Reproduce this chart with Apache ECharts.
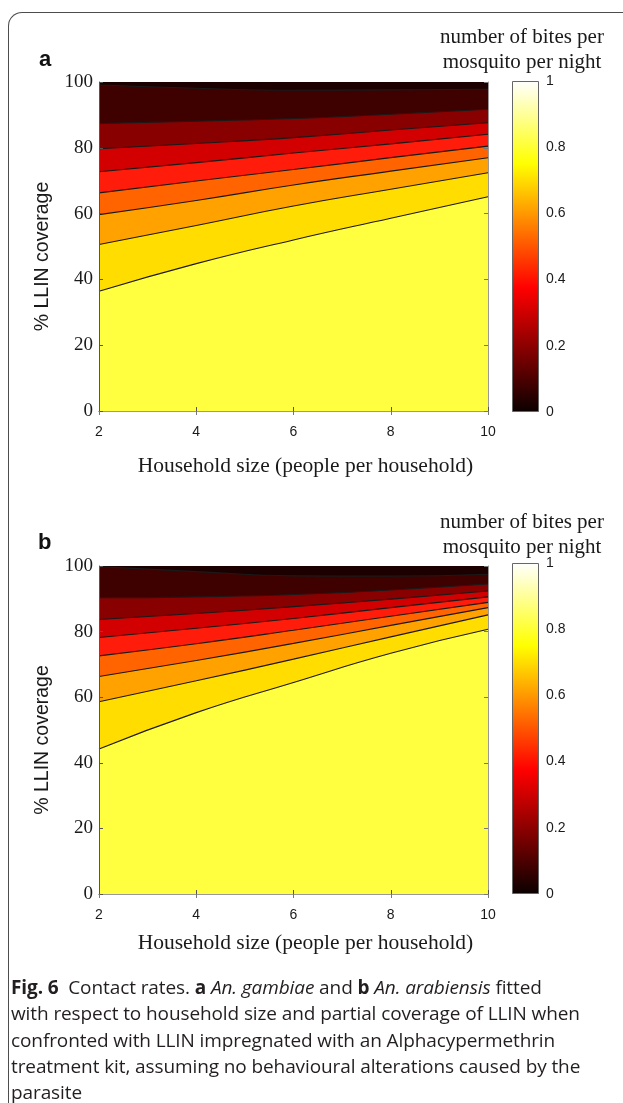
<!DOCTYPE html>
<html>
<head>
<meta charset="utf-8">
<script src="https://cdn.jsdelivr.net/npm/echarts@6/dist/echarts.min.js"></script>
<style>
  html, body { margin: 0; padding: 0; background: #fff; }
  #page { position: relative; width: 623px; height: 1103px; overflow: hidden; }
  #chart { position: absolute; left: 0; top: 0; width: 623px; height: 1103px; }
  #frame {
    position: absolute; left: 8px; top: 12px; width: 700px; height: 1200px;
    border-top: 1.5px solid #4d4d4d; border-left: 1.5px solid #4d4d4d;
    border-top-left-radius: 14px; pointer-events: none;
  }
  #caption {
    position: absolute; left: 11px; top: 974px; width: 612px;
    font-family: 'Open Sans', 'Noto Sans', sans-serif; font-size: 19px;
    line-height: 26.3px; color: #231f20; letter-spacing: -0.1px; white-space: nowrap;
  }
  #caption b { font-weight: 700; }
</style>
</head>
<body>
<div id="page">
  <div id="frame"></div>
  <div id="chart"></div>
  <div id="caption">
    <b>Fig. 6</b>&nbsp; Contact rates. <b>a</b> <i>An. gambiae</i> and <b>b</b> <i>An. arabiensis</i> fitted<br>
    with respect to household size and partial coverage of LLIN when<br>
    confronted with LLIN impregnated with an Alphacypermethrin<br>
    treatment kit, assuming no behavioural alterations caused by the<br>
    parasite
  </div>
</div>
<script>
// household size (x) where the contour lines were read
const household = [2, 4, 6, 8, 10]

// contour levels of the colour scale (bites per mosquito per night)
const levels = [0.1, 0.2, 0.3, 0.4, 0.5, 0.6, 0.7, 0.8]
const colorTicks = [0, 0.2, 0.4, 0.6, 0.8, 1]
const xTicks = [2, 4, 6, 8, 10]
const yTicks = [0, 20, 40, 60, 80, 100]

// panel a, An. gambiae: % LLIN coverage of each contour line at household sizes above
const gambiae01 = [99.1, 98.1, 97.5, 97.6, 97.8]
const gambiae02 = [87.4, 88.1, 88.9, 90.2, 91.7]
const gambiae03 = [79.7, 81.3, 83.1, 85.4, 87.6]
const gambiae04 = [72.7, 75.5, 78.4, 81.2, 84.1]
const gambiae05 = [66.3, 69.9, 73.4, 77.0, 80.5]
const gambiae06 = [59.7, 64.0, 68.7, 72.9, 77.0]
const gambiae07 = [50.6, 56.4, 62.3, 67.4, 72.4]
const gambiae08 = [36.4, 44.8, 52.0, 58.6, 65.1]

// panel b, An. arabiensis
const arabiensis01 = [99.8, 98.3, 97.0, 96.9, 97.5]
const arabiensis02 = [90.3, 90.6, 91.3, 92.7, 94.5]
const arabiensis03 = [83.7, 85.5, 87.6, 89.9, 92.4]
const arabiensis04 = [78.2, 81.0, 84.0, 87.3, 90.6]
const arabiensis05 = [72.6, 76.3, 80.4, 84.7, 88.9]
const arabiensis06 = [66.3, 71.2, 76.4, 81.9, 87.3]
const arabiensis07 = [58.6, 65.0, 71.6, 78.4, 85.1]
const arabiensis08 = [44.2, 55.3, 64.5, 73.4, 80.7]

const gambiaeLines = [gambiae01, gambiae02, gambiae03, gambiae04, gambiae05, gambiae06, gambiae07, gambiae08]
const arabiensisLines = [arabiensis01, arabiensis02, arabiensis03, arabiensis04, arabiensis05, arabiensis06, arabiensis07, arabiensis08]

// band colours ("hot" colormap), from the top band down
const bandColors = ['#1c0000', '#3f0000', '#880000', '#d20000', '#ff1c0a', '#ff6400', '#ffa200', '#ffdd00', '#ffff40']

const serif = '"Liberation Serif", "DejaVu Serif", serif'
const sans = '"Liberation Sans", Arial, sans-serif'

const chart = echarts.init(document.getElementById('chart'))

function plotAxes(grid, nameGap) {
  const x = [{
    type: 'value', gridIndex: grid, min: 2, max: 10, interval: 2, z: 10,
    name: 'Household size (people per household)', nameLocation: 'middle', nameGap: nameGap,
    nameTextStyle: { fontFamily: serif, fontSize: 21.5, color: '#1a1a1a', padding: [0, 0, 0, 24] },
    axisLine: { lineStyle: { color: '#555' } },
    axisTick: { inside: true, length: 4, lineStyle: { color: '#555' } },
    axisLabel: { margin: 14, fontFamily: sans, fontSize: 14, color: '#1a1a1a' },
    splitLine: { show: false }
  }, {
    type: 'value', gridIndex: grid, position: 'top', min: 2, max: 10, interval: 2, z: 10,
    axisLine: { lineStyle: { color: '#999' } },
    axisTick: { inside: true, length: 4, lineStyle: { color: '#777' } },
    axisLabel: { show: false }, splitLine: { show: false }
  }]
  const y = [{
    type: 'value', gridIndex: grid, min: 0, max: 100, interval: 20, z: 10,
    name: '% LLIN coverage', nameLocation: 'middle', nameGap: 46, nameRotate: 90,
    nameTextStyle: { fontFamily: sans, fontSize: 19.5, color: '#1a1a1a', padding: [0, 20, 0, 0] },
    axisLine: { lineStyle: { color: '#555' } },
    axisTick: { inside: true, length: 4, lineStyle: { color: '#555' } },
    axisLabel: { margin: 6, fontFamily: serif, fontSize: 19, color: '#1a1a1a' },
    splitLine: { show: false }
  }, {
    type: 'value', gridIndex: grid, position: 'right', min: 0, max: 100, interval: 20, z: 10,
    axisLine: { lineStyle: { color: '#999' } },
    axisTick: { inside: true, length: 4, lineStyle: { color: '#777' } },
    axisLabel: { show: false }, splitLine: { show: false }
  }]
  return { x, y }
}

function barAxes(grid) {
  const x = [{ type: 'category', gridIndex: grid, data: ['scale'], show: false }]
  const y = [{
    type: 'value', gridIndex: grid, position: 'right', min: 0, max: 1, interval: 0.2, z: 10,
    axisLine: { show: false },
    axisTick: { inside: true, length: 3, lineStyle: { color: '#555' } },
    axisLabel: { margin: 7, fontFamily: sans, fontSize: 14, color: '#1a1a1a' },
    splitLine: { show: false }
  }]
  return { x, y }
}

function contourSeries(lines, xIdx, yIdx) {
  const out = [{
    type: 'line', xAxisIndex: xIdx, yAxisIndex: yIdx, symbol: 'none', silent: true,
    data: household.map(h => [h, yTicks[yTicks.length - 1]]),
    lineStyle: { width: 0 },
    areaStyle: { color: bandColors[0], opacity: 1, origin: 'start' }
  }]
  lines.forEach((ys, i) => {
    out.push({
      type: 'line', name: String(levels[i]), xAxisIndex: xIdx, yAxisIndex: yIdx,
      symbol: 'none', silent: true, smooth: 0.5,
      data: household.map((h, j) => [h, ys[j]]),
      lineStyle: { color: '#1a1a1a', width: 1.1 },
      areaStyle: { color: bandColors[i + 1], opacity: 1, origin: 'start' }
    })
  })
  return out
}

const hot = {
  type: 'linear', x: 0, y: 1, x2: 0, y2: 0,
  colorStops: [
    { offset: 0, color: '#0b0000' },
    { offset: 0.375, color: '#ff0000' },
    { offset: 0.75, color: '#ffff00' },
    { offset: 1, color: '#ffffff' }
  ]
}

function colorBar(xIdx, yIdx) {
  return {
    type: 'bar', xAxisIndex: xIdx, yAxisIndex: yIdx, barWidth: '100%', silent: true,
    data: [colorTicks[colorTicks.length - 1]],
    itemStyle: { color: hot, borderColor: '#666', borderWidth: 1 }
  }
}

const pa = plotAxes(0, 44)
const pb = plotAxes(1, 38)
const ca = barAxes(2)
const cb = barAxes(3)

const legendTitle = (top) => ({
  type: 'text', x: 522, y: top,
  style: {
    text: 'number of bites per\nmosquito per night', fontFamily: serif, fontSize: 21,
    lineHeight: 25, fill: '#1a1a1a', align: 'center', verticalAlign: 'top'
  }
})

chart.setOption({
  animation: false,
  grid: [
    { left: 99, top: 82, width: 389, height: 329 },
    { left: 99, top: 566, width: 389, height: 328 },
    { left: 512, top: 81, width: 27, height: 331 },
    { left: 512, top: 563, width: 27, height: 331 }
  ],
  xAxis: [...pa.x, ...pb.x, ...ca.x, ...cb.x],
  yAxis: [...pa.y, ...pb.y, ...ca.y, ...cb.y],
  series: [
    ...contourSeries(gambiaeLines, 0, 0),
    ...contourSeries(arabiensisLines, 2, 2),
    colorBar(4, 4),
    colorBar(5, 5)
  ],
  graphic: [
    { type: 'text', left: 39, top: 49, style: { text: 'a', fontFamily: sans, fontWeight: 'bold', fontSize: 22, fill: '#111' } },
    { type: 'text', left: 38, top: 532, style: { text: 'b', fontFamily: sans, fontWeight: 'bold', fontSize: 22, fill: '#111' } },
    legendTitle(25),
    legendTitle(510)
  ]
})
</script>
</body>
</html>
